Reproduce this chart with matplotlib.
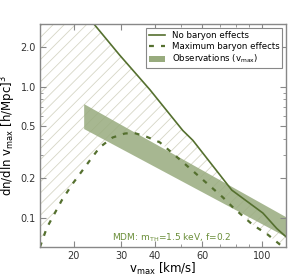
import matplotlib
matplotlib.use("Agg")
import matplotlib.pyplot as plt
from matplotlib.lines import Line2D
from matplotlib.patches import Patch
from matplotlib.ticker import FixedLocator, NullFormatter

# no baryon effects (solid)
v_nobar = [23.5, 29.6, 38.4, 50.9, 55.5, 77.4, 101, 113.8, 123]
n_nobar = [3.1, 1.75, 0.95, 0.464, 0.39, 0.163, 0.109, 0.083, 0.072]

# maximum baryon effects (dashed)
v_maxbar = [15.0, 15.9, 18.1, 19.9, 21.6, 23.0, 25.0, 27.9, 31.0, 33.5, 37.4,
            41.8, 50.0, 62.5, 71.6, 78.0, 92.7, 105, 120]
n_maxbar = [0.060, 0.084, 0.137, 0.184, 0.231, 0.275, 0.345, 0.41, 0.44, 0.445,
            0.415, 0.377, 0.275, 0.184, 0.144, 0.121, 0.0885, 0.075, 0.060]

# observations band
v_obs = [21.8, 123]
n_obs_hi = [0.743, 0.102]
n_obs_lo = [0.48, 0.072]

xticks = [20, 30, 40, 60, 100]
yticks = [0.1, 0.2, 0.5, 1.0, 2.0]

line_col = "#55702f"
band_col = "#98ab7e"
text_col = "#6b8f3a"
dash = (0, (2.2, 3.2))

plt.rcParams["hatch.linewidth"] = 0.6
fig = plt.figure(figsize=(2.96, 2.77), dpi=100)
ax = fig.add_axes([0.135, 0.108, 0.831, 0.805])
ax.set_xscale("log")
ax.set_yscale("log")

xmin, xmax = 15, 123
ymin, ymax = 0.06, 3.0

# hatched region between the two curves (closed at the top-left corner)
poly_x = v_maxbar + v_nobar[::-1] + [xmin]
poly_y = n_maxbar + n_nobar[::-1] + [n_nobar[0]]
ax.fill(poly_x, poly_y, facecolor="none", edgecolor="#d6d6c6", hatch="///", linewidth=0)
ax.fill_between(v_obs, n_obs_lo, n_obs_hi, color=band_col, alpha=0.85, linewidth=0)
ax.plot(v_nobar, n_nobar, color=line_col, lw=1.2)
ax.plot(v_maxbar, n_maxbar, color=line_col, lw=1.6, ls=dash)

ax.set_xlim(xmin, xmax)
ax.set_ylim(ymin, ymax)
ax.xaxis.set_major_locator(FixedLocator(xticks))
ax.xaxis.set_minor_locator(FixedLocator([50, 70, 80, 90]))
ax.xaxis.set_minor_formatter(NullFormatter())
ax.set_xticklabels([str(t) for t in xticks])
ax.yaxis.set_major_locator(FixedLocator(yticks))
ax.yaxis.set_minor_locator(FixedLocator([0.3, 0.4, 0.6, 0.7, 0.8, 0.9]))
ax.yaxis.set_minor_formatter(NullFormatter())
ax.set_yticklabels([str(t) for t in yticks])

ax.tick_params(which="both", direction="in", top=True, right=True,
               labelsize=7, colors="#888888", labelcolor="#333333")
ax.tick_params(which="major", length=4, pad=3)
ax.tick_params(which="minor", length=2)
for s in ax.spines.values():
    s.set_color("#888888")
    s.set_linewidth(1.0)

ax.set_xlabel(r"v$_{\rm max}$ [km/s]", fontsize=8.5, labelpad=0)
ax.set_ylabel(r"dn/dln v$_{\rm max}$ [h/Mpc]$^3$", fontsize=8.5, labelpad=1.5)

ax.text(0.293, 0.04, r"MDM: m$_{\rm TH}$=1.5 keV, f=0.2", transform=ax.transAxes,
        fontsize=6.5, color=text_col, va="center", ha="left")

handles = [Line2D([], [], color=line_col, lw=1.2),
           Line2D([], [], color=line_col, lw=1.6, ls=dash),
           Patch(facecolor=band_col, edgecolor="none")]
labels = ["No baryon effects", "Maximum baryon effects", r"Observations (v$_{\rm max}$)"]
leg = ax.legend(handles, labels, loc="upper right", fontsize=6.2, fancybox=False,
                framealpha=1, edgecolor="#888888", handlelength=1.8,
                borderaxespad=0.4, labelspacing=0.25, borderpad=0.35)
leg.get_frame().set_linewidth(0.8)

fig.savefig("out.png", dpi=100)
